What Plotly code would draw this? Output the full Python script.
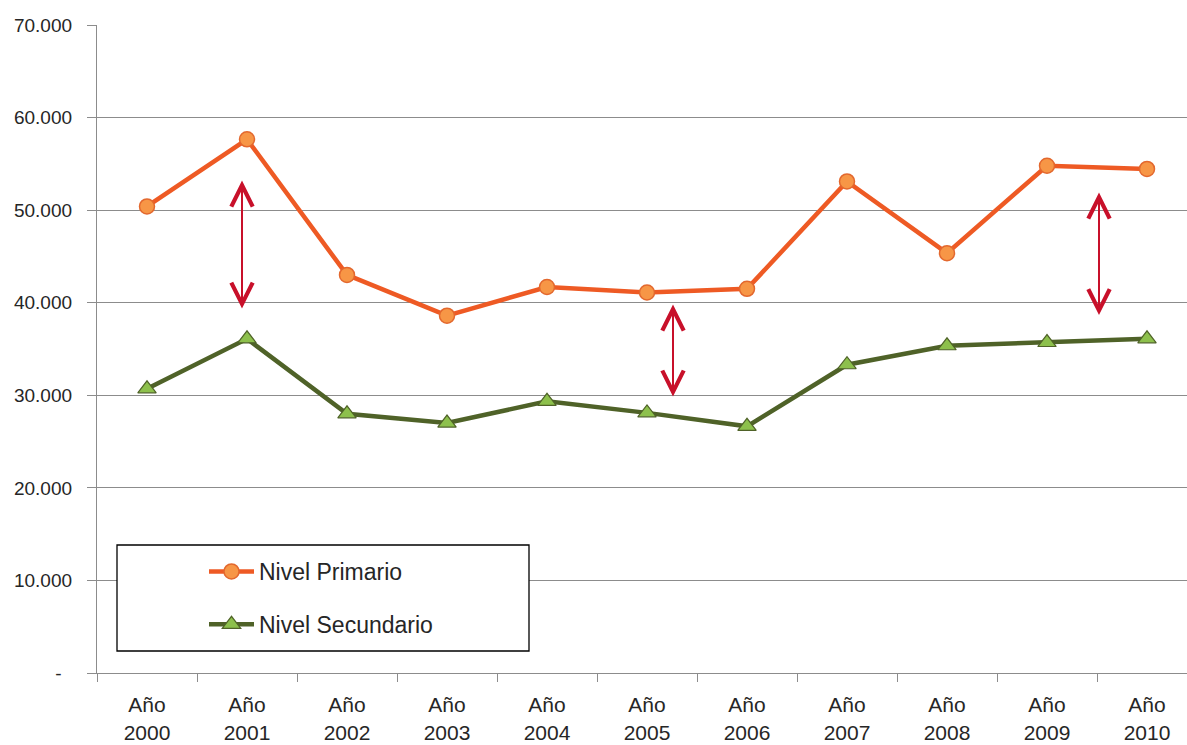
import plotly.graph_objects as go

# Matrícula por nivel educativo, 2000-2010
years = ["2000", "2001", "2002", "2003", "2004", "2005", "2006", "2007", "2008", "2009", "2010"]
categories = ["Año<br>" + y for y in years]

nivel_primario = [50400, 57650, 43000, 38600, 41700, 41100, 41500, 53100, 45350, 54800, 54450]
nivel_secundario = [30700, 36100, 28000, 27000, 29350, 28100, 26650, 33300, 35350, 35700, 36100]

# Flechas de brecha: (posición en el eje de categorías, valor superior, valor inferior)
brecha_x = [0.95, 5.26, 9.52]
brecha_sup = [53200, 39800, 51900]
brecha_inf = [39200, 29700, 38500]

y_ticks = [0, 10000, 20000, 30000, 40000, 50000, 60000, 70000]
y_labels = ["-\u00a0\u00a0", "10.000", "20.000", "30.000", "40.000", "50.000", "60.000", "70.000"]

W, H = 1187, 745
M_L, M_R, M_T, M_B = 97, 0, 25, 72
PW, PH = W - M_L - M_R, H - M_T - M_B


def px_x(px):
    return (px - M_L) / PW


def px_y(py):
    return (H - M_B - py) / PH


fig = go.Figure()

fig.add_trace(go.Scatter(
    x=categories, y=nivel_primario, name="Nivel Primario", mode="lines+markers",
    legendgroup="p",
    line=dict(color="#EE5A24", width=4.5),
    marker=dict(symbol="circle", size=15, color="#F79646", line=dict(color="#E3682E", width=1.5)),
))
fig.add_trace(go.Scatter(
    x=categories, y=nivel_secundario, name="Nivel Secundario", mode="lines+markers",
    legendgroup="s",
    line=dict(color="#4F6228", width=4.5),
    marker=dict(symbol="triangle-up", size=16, color="#8DC04C", line=dict(color="#4F6228", width=1.2)),
))

for bx, top, bot in zip(brecha_x, brecha_sup, brecha_inf):
    fig.add_annotation(
        x=bx, y=top, ax=bx, ay=bot, xref="x", yref="y", axref="x", ayref="y",
        text="", showarrow=True, arrowside="end+start",
        arrowhead=5, startarrowhead=5, arrowsize=2.1, startarrowsize=2.1,
        arrowwidth=2, arrowcolor="#C8102A",
    )

# Recuadro de la leyenda
fig.add_shape(
    type="rect", xref="paper", yref="paper",
    x0=px_x(117), x1=px_x(529), y0=px_y(651), y1=px_y(545),
    line=dict(color="#000000", width=1.3), fillcolor="rgba(255,255,255,1)", layer="above",
)

fig.update_layout(
    width=W, height=H,
    margin=dict(l=M_L, r=M_R, t=M_T, b=M_B),
    paper_bgcolor="white", plot_bgcolor="white",
    font=dict(family="Liberation Sans, Arial, sans-serif", color="#262626"),
    showlegend=True,
    legend=dict(
        x=px_x(204), y=px_y(550), xanchor="left", yanchor="top",
        bgcolor="rgba(0,0,0,0)", borderwidth=0,
        font=dict(size=23, color="#262626"),
        itemwidth=45, tracegroupgap=20,
    ),
    xaxis=dict(
        type="category", range=[-0.5, 10.4],
        showgrid=False, showline=True, linecolor="#8C8C8C", linewidth=1.3,
        ticks="outside", tickson="boundaries", ticklen=8, tickcolor="#8C8C8C", tickwidth=1,
        tickfont=dict(size=21, color="#262626"), ticklabelstandoff=13,
        zeroline=False,
    ),
    yaxis=dict(
        range=[0, 70000], tickvals=y_ticks, ticktext=y_labels,
        showgrid=True, gridcolor="#8C8C8C", gridwidth=1.3,
        showline=True, linecolor="#8C8C8C", linewidth=1.3,
        ticks="outside", ticklen=9, tickcolor="#8C8C8C", tickwidth=1,
        tickfont=dict(size=19, color="#262626"), ticklabelstandoff=11,
        zeroline=False,
    ),
)

fig.write_html("out.html")
